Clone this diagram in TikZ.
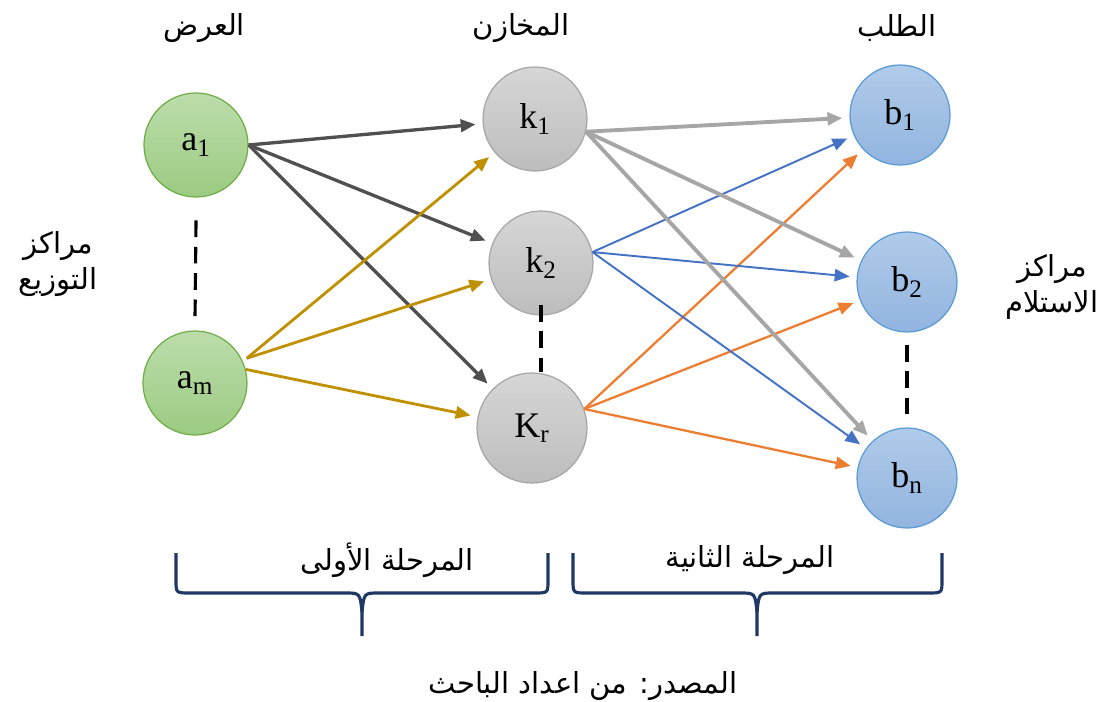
\documentclass[tikz,border=0pt]{standalone}
\usepackage{fontspec}
\setmainfont{Liberation Serif}
\newfontfamily\arabicfont[Script=Arabic]{DejaVu Sans}
\TeXXeTstate=1
\usetikzlibrary{arrows.meta}

\definecolor{greenedge}{HTML}{70AD47}
\definecolor{greentop}{HTML}{BCDDAB}
\definecolor{greenbot}{HTML}{9BCB82}
\definecolor{grayedge}{HTML}{A6A6A6}
\definecolor{graytop}{HTML}{D6D6D6}
\definecolor{graybot}{HTML}{BDBDBD}
\definecolor{blueedge}{HTML}{5B9BD5}
\definecolor{bluetop}{HTML}{B0CBEA}
\definecolor{bluebot}{HTML}{92B4DF}
\definecolor{darkline}{HTML}{505050}
\definecolor{goldline}{HTML}{BF9000}
\definecolor{lightline}{HTML}{A6A6A6}
\definecolor{blueline}{HTML}{4472C4}
\definecolor{orangeline}{HTML}{ED7D31}
\definecolor{navy}{HTML}{1F3864}

\newcommand{\artxt}[1]{\beginR #1\endR}

\begin{document}
\begin{tikzpicture}
        [%%%%%%%%%%%%%%%%%%%%%%%%%%%%%%
        x=0.02cm, y=-0.02cm,
        center/.style={circle, line width=0.7pt, inner sep=0pt, minimum size=2.08cm,
                       font=\fontsize{20.5}{24}\selectfont},
        supply/.style={center, draw=greenedge, top color=greentop, bottom color=greenbot},
        store/.style={center, draw=grayedge, top color=graytop, bottom color=graybot},
        demand/.style={center, draw=blueedge, top color=bluetop, bottom color=bluebot, minimum size=2cm},
        label/.style={font=\arabicfont\fontsize{16.5}{21}\selectfont, align=center},
        gap/.style={line width=1.8pt, dash pattern=on 9.5pt off 5.5pt},
        tip/.style={-{Triangle[length=8.5pt,width=7pt]}, shorten >=4pt},
        firstdark/.style={tip, draw=darkline, line width=1.9pt},
        firstgold/.style={tip, draw=goldline, line width=1.6pt},
        secondgray/.style={tip, draw=lightline, line width=2.2pt},
        secondblue/.style={tip, draw=blueline, line width=1.1pt},
        secondorange/.style={tip, draw=orangeline, line width=1.3pt},
        stagebrace/.style={draw=navy, line width=1.8pt},
        ]%%%%%%%%%%%%%%%%%%%%%%%%%%%%%%
        \useasboundingbox (0,0) rectangle (1102,702);
        % Supply, stores and demand centres
        \node[supply] (a1) at (196,145) {a\textsubscript{1}};
        \node[supply] (am) at (195,383) {a\textsubscript{m}};
        \node[store] (k1) at (535,119) {k\textsubscript{1}};
        \node[store] (k2) at (541,263) {k\textsubscript{2}};
        \node[store, minimum size=2.2cm] (Kr) at (532,428) {K\textsubscript{r}};
        \node[demand] (b1) at (900,115) {b\textsubscript{1}};
        \node[demand] (b2) at (907,282) {b\textsubscript{2}};
        \node[demand] (bn) at (907,478) {b\textsubscript{n}};
        % Dashed gaps
        \draw[gap] ([yshift=-13pt]a1.south) -- ([yshift=6pt]am.north);
        \draw[gap] ([yshift=6pt]k2.south) -- (k2.south |- Kr.north);
        \draw[gap] ([yshift=-7pt]b2.south) -- ([yshift=5pt]bn.north);
        % First stage
        \foreach \t in {k1,k2,Kr}{
          \draw[firstdark] (a1.east) -- (\t);
        }
        \draw[firstgold] ([xshift=3pt]am.28) -- (k1);
        \draw[firstgold] ([xshift=3pt]am.28) -- (k2);
        \draw[firstgold] (am.15) -- (Kr);
        % Second stage
        \foreach \t in {b1,b2,bn}{
          \draw[secondgray] (k1.-14) -- (\t);
          \draw[secondblue] (k2.12) -- (\t);
          \draw[secondorange] (Kr.20) -- (\t);
        }
        % Text
        \node[label] (tsupply) at (204,28) {\artxt{العرض}};
        \node[label] (tstore) at (521,28) {\artxt{المخازن}};
        \node[label] (tdemand) at (897,28) {\artxt{الطلب}};
        \node[label] (tdist) at (58,264) {\artxt{مراكز}\\\artxt{التوزيع}};
        \node[label] (trecv) at (1052,287) {\artxt{مراكز}\\\artxt{الاستلام}};
        % Braces
        \draw[stagebrace] (176,553) -- (176,580) .. controls (176,593) .. (190,593) -- (345,593)
              .. controls (360,593) .. (362,612) -- (362,636);
        \draw[stagebrace] (548,553) -- (548,580) .. controls (548,593) .. (534,593) -- (379,593)
              .. controls (364,593) .. (362,612);
        \draw[stagebrace] (573,553) -- (573,580) .. controls (573,593) .. (587,593) -- (740,593)
              .. controls (755,593) .. (757,612) -- (757,636);
        \draw[stagebrace] (942,553) -- (942,580) .. controls (942,593) .. (928,593) -- (774,593)
              .. controls (759,593) .. (757,612);
        \node[label] (tfirst) at (387,560) {\artxt{المرحلة الأولى}};
        \node[label] (tsecond) at (750,560) {\artxt{المرحلة الثانية}};
        \node[label] (tsource) at (583,686) {\artxt{المصدر: من اعداد الباحث}};
      \end{tikzpicture}
\end{document}
